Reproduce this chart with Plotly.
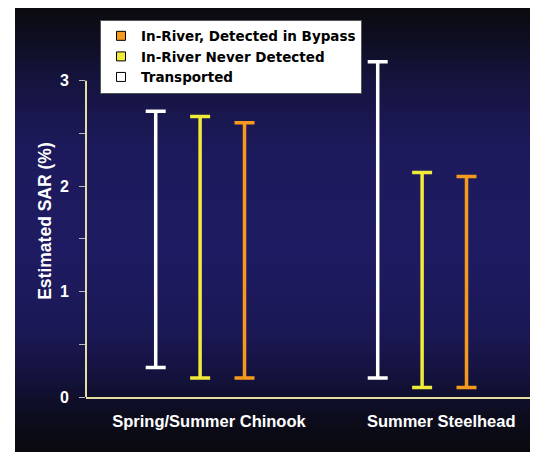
import plotly.graph_objects as go

# ---- data ----
categories = ["Spring/Summer Chinook", "Summer Steelhead"]
series_names = ["Transported", "In-River Never Detected", "In-River, Detected in Bypass"]
transported_low = [0.28, 0.18]
transported_high = [2.71, 3.18]
never_low = [0.18, 0.09]
never_high = [2.66, 2.13]
bypass_low = [0.18, 0.09]
bypass_high = [2.60, 2.09]
y_tick_values = [0, 1, 2, 3]
y_tick_labels = ["0", "1", "2", "3"]

# ---- styling / layout (page pixel coordinates) ----
W, H = 538, 452
OFF = 8                      # page body margin
Y_AX_MAX = 3.0               # axis line drawn up to this value
Y_RANGE_MAX = 3.3
PX_PER_UNIT = (397 - 81) / 3.0
plot_left, plot_right = 86, 532
plot_bottom = 397
plot_top = plot_bottom - Y_RANGE_MAX * PX_PER_UNIT

L = plot_left - OFF
T = plot_top - OFF
R = W - (plot_right - OFF)
B = H - (plot_bottom - OFF)

FONT = "Liberation Sans, Arial, sans-serif"
LEGEND_FONT = "DejaVu Sans, Verdana, sans-serif"
colors = {"Transported": "#ffffff",
          "In-River Never Detected": "#f0ea3a",
          "In-River, Detected in Bypass": "#f59a1c"}
offsets = [-0.2, 0.0, 0.2]
label_shift = [0.04, 0.086]
axis_col = "#e2dea4"

def px_x(p):
    return (p - plot_left) / (plot_right - plot_left)

def px_y(p):
    return (plot_bottom - p) / (plot_bottom - plot_top)

fig = go.Figure()

group_x = list(range(len(categories)))
series = [
    ("Transported", transported_low, transported_high),
    ("In-River Never Detected", never_low, never_high),
    ("In-River, Detected in Bypass", bypass_low, bypass_high),
]
for (name, lo, hi), off in zip(series, offsets):
    fig.add_trace(go.Scatter(
        x=[g + off for g in group_x], y=lo, mode="markers",
        marker=dict(color="rgba(0,0,0,0)", size=1),
        error_y=dict(type="data", symmetric=False,
                     array=[h - l for h, l in zip(hi, lo)],
                     arrayminus=[0] * len(lo),
                     color=colors[name], thickness=3.5, width=10),
        showlegend=False, hoverinfo="skip"))

# legend entries (reversed order as in reference)
for name in reversed(series_names):
    fig.add_trace(go.Scatter(
        x=[None], y=[None], mode="markers", name=name,
        marker=dict(symbol="square", size=9, color=colors[name],
                    line=dict(color="#000000", width=1))))

# background gradient
stops = [(7, (11, 11, 14)), (40, (14, 14, 34)), (80, (21, 20, 62)),
         (150, (29, 26, 92)), (250, (31, 27, 98)), (330, (27, 24, 86)),
         (380, (19, 18, 58)), (410, (13, 13, 34)), (452, (9, 9, 13))]

def col_at(y):
    for (y0, c0), (y1, c1) in zip(stops[:-1], stops[1:]):
        if y0 <= y <= y1:
            t = (y - y0) / (y1 - y0)
            return "rgb(%d,%d,%d)" % tuple(round(a + (b - a) * t) for a, b in zip(c0, c1))
    return "rgb(9,9,13)"

shapes = []
step = 4
y = 7
while y < 452:
    shapes.append(dict(type="rect", xref="paper", yref="paper", layer="below",
                       x0=px_x(15), x1=px_x(532), y0=px_y(min(y + step + 1, 452)), y1=px_y(y),
                       fillcolor=col_at(y + step / 2), line=dict(width=0)))
    y += step

# y axis line only up to 3
shapes.append(dict(type="line", xref="paper", yref="y", x0=0, x1=0, y0=0, y1=Y_AX_MAX,
                   line=dict(color=axis_col, width=2), layer="above"))

fig.update_layout(
    width=W, height=H,
    margin=dict(l=L, r=R, t=T, b=B),
    paper_bgcolor="#ffffff", plot_bgcolor="rgba(0,0,0,0)",
    shapes=shapes,
    showlegend=True,
    legend=dict(x=px_x(100), y=px_y(20), xanchor="left", yanchor="top",
                bgcolor="#ffffff", bordercolor="#555555", borderwidth=1,
                font=dict(family=LEGEND_FONT, size=13.5, color="#000000", weight="bold"),
                itemwidth=30, tracegroupgap=0),
    xaxis=dict(range=[-0.514, 1.495], showgrid=False, zeroline=False,
               showline=True, linecolor=axis_col, linewidth=2,
               tickvals=[g + s for g, s in zip(group_x, label_shift)], ticktext=categories,
               ticks="", ticklabelstandoff=8,
               tickfont=dict(family=FONT, size=16.5, color="#ffffff", weight="bold")),
    yaxis=dict(range=[0, Y_RANGE_MAX], showgrid=False, zeroline=False,
               showline=False,
               tickvals=y_tick_values, ticktext=y_tick_labels,
               ticks="outside", ticklen=6, tickcolor="#bbbbbb", tickwidth=1,
               ticklabelstandoff=7,
               minor=dict(dtick=0.5, ticks="outside", ticklen=6, tickcolor="#bbbbbb", tickwidth=1),
               tickfont=dict(family=FONT, size=16, color="#ffffff", weight="bold")),
    annotations=[dict(text="Estimated SAR (%)", xref="paper", yref="paper",
                      x=px_x(45), y=px_y(221), textangle=-90, showarrow=False,
                      xanchor="center", yanchor="middle",
                      font=dict(family=FONT, size=17.5, color="#ffffff", weight="bold"))],
)

fig.write_html("out.html")
